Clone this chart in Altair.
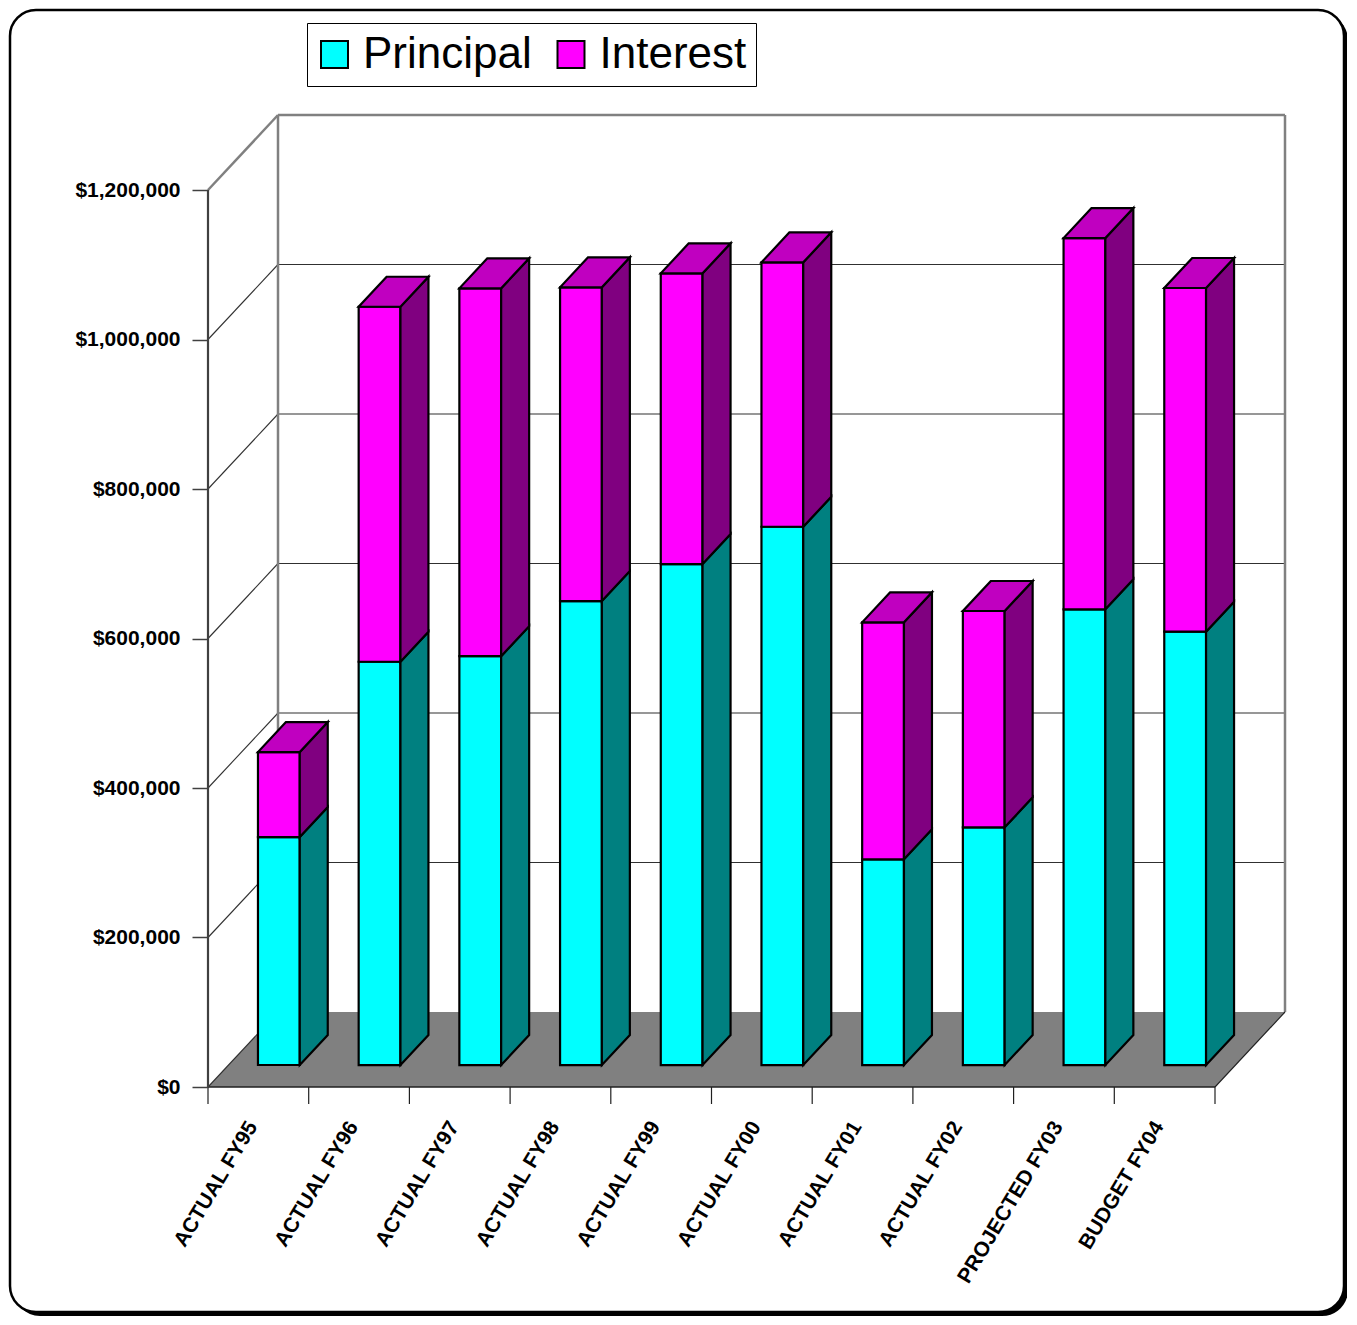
import json
import altair as alt
import pandas as pd

# ---------------- data ----------------
categories = ["ACTUAL FY95", "ACTUAL FY96", "ACTUAL FY97", "ACTUAL FY98", "ACTUAL FY99",
              "ACTUAL FY00", "ACTUAL FY01", "ACTUAL FY02", "PROJECTED FY03", "BUDGET FY04"]
principal = [305000, 539500, 547000, 620700, 670200, 720100, 275200, 318000, 609600, 579700]
interest = [113700, 474900, 492100, 419700, 388900, 353700, 317000, 289400, 496700, 459800]
series = ["Principal", "Interest"]
front_colors = ["#00FFFF", "#FF00FF"]
side_colors = ["#008080", "#800080"]
top_color = "#C000C0"
y_ticks = [0, 200000, 400000, 600000, 800000, 1000000, 1200000]

# ---------------- geometry (styling constants) ----------------
W, H = 1077, 974
PX_PER_CAT = 100.7
PX_PER_USD = 897 / 1200000
XMAX = W / PX_PER_CAT
YMAX = H / PX_PER_USD
DX = 70 / PX_PER_CAT          # depth offset in category units
DY = 75 / PX_PER_USD          # depth offset in value units
F0, F1 = 0.293, 0.693         # bar depth range (fraction of floor depth)
BW = 0.415                    # bar width (category units)
N = len(categories)
TOPV = y_ticks[-1]

XS = alt.Scale(domain=[0, XMAX], nice=False, zero=False)
YS = alt.Scale(domain=[0, YMAX], nice=False, zero=False)
FONT = "Liberation Sans"

XAXIS = alt.Axis(values=[i + 0.5 for i in range(N)],
                 labelExpr=json.dumps(categories) + "[floor(datum.value)]",
                 ticks=False, domain=False, grid=False, title=None,
                 labelAngle=-59, labelAlign="right", labelBaseline="middle",
                 labelPadding=36, labelOffset=-6, labelFontSize=21,
                 labelFontWeight="bold", labelLimit=0,
                 labelFont=FONT, labelColor="black", labelOverlap=False,
                 labelFlush=False, labelBound=False, zindex=1)
YAXIS = alt.Axis(values=y_ticks, format="$,.0f", domain=False, ticks=True,
                 tickSize=16, tickColor="#404040", tickWidth=1.5,
                 labelPadding=12, labelFontSize=21, labelFontWeight="bold",
                 labelFont=FONT, labelColor="black", grid=False, title=None,
                 labelLimit=0, zindex=1)


def X(f):
    return alt.X(f, type="quantitative", scale=XS, axis=XAXIS)


def Y(f):
    return alt.Y(f, type="quantitative", scale=YS, axis=YAXIS)


# ---------------- build geometry tables from data ----------------
front_rows, side_rows, top_rows = [], [], []
for i, cat in enumerate(categories):
    stacks = [(0, principal[i]), (principal[i], principal[i] + interest[i])]
    xl = i + 0.5 - BW / 2 + F0 * DX
    xr = xl + BW
    for s, (lo, hi) in enumerate(stacks):
        front_rows.append(dict(cat=cat, series=series[s], x=xl, x2=xr,
                               y=lo + F0 * DY, y2=hi + F0 * DY))
        for t in (0.0, 1.0):
            side_rows.append(dict(id=f"{i}-{s}", series=series[s],
                                  x=xr + t * (F1 - F0) * DX,
                                  y=lo + F0 * DY + t * (F1 - F0) * DY,
                                  y2=hi + F0 * DY + t * (F1 - F0) * DY))
    top = stacks[-1][1]
    for t in (0.0, 1.0):
        top_rows.append(dict(id=str(i),
                             y=top + F0 * DY + t * (F1 - F0) * DY,
                             x=xl + t * (F1 - F0) * DX,
                             x2=xr + t * (F1 - F0) * DX))

front_df = pd.DataFrame(front_rows)
side_df = pd.DataFrame(side_rows)
top_df = pd.DataFrame(top_rows)

floor_df = pd.DataFrame([dict(y=0, x=0, x2=N), dict(y=DY, x=DX, x2=N + DX)])

rule_rows = []
for v in y_ticks:
    top_level = v == TOPV
    col = "#808080" if top_level else "#303030"
    wd = 2.5 if top_level else 1.1
    rule_rows.append(dict(x=0, y=v, x2=DX, y2=v + DY, c=col, w=wd))
    if v > 0:
        rule_rows.append(dict(x=DX, y=v + DY, x2=N + DX, y2=v + DY, c=col, w=wd))
# walls, floor and axis edges
rule_rows += [
    dict(x=DX, y=DY, x2=DX, y2=TOPV + DY, c="#808080", w=2.5),
    dict(x=N + DX, y=DY, x2=N + DX, y2=TOPV + DY, c="#808080", w=2.5),
    dict(x=N, y=0, x2=N + DX, y2=DY, c="#202020", w=1.1),
    dict(x=0, y=0, x2=N, y2=0, c="#202020", w=1.5),
    dict(x=0, y=0, x2=0, y2=TOPV, c="#404040", w=2.2),
]
rule_df = pd.DataFrame(rule_rows)
tick_df = pd.DataFrame(dict(x=list(range(N + 1)), y=[0] * (N + 1)))
one = pd.DataFrame(dict(a=[0]))

# ---------------- layers ----------------
shadow = alt.Chart(one).mark_rect(cornerRadius=26, fill="black").encode(
    x=alt.value(-194), x2=alt.value(1140), y=alt.value(-99), y2=alt.value(1203))
frame = alt.Chart(one).mark_rect(cornerRadius=26, fill="white", stroke="black",
                                 strokeWidth=2.5).encode(
    x=alt.value(-198), x2=alt.value(1136), y=alt.value(-103), y2=alt.value(1199))

floor = alt.Chart(floor_df).mark_area(orient="horizontal", fill="#808080").encode(
    y=Y("y"), x=X("x"), x2="x2")

rules = alt.Chart(rule_df).mark_rule().encode(
    x=X("x"), y=Y("y"), x2="x2", y2="y2",
    stroke=alt.Stroke("c:N", scale=None),
    strokeWidth=alt.StrokeWidth("w:Q", scale=None))

xticks = alt.Chart(tick_df).mark_rule(stroke="#202020", strokeWidth=1.2).encode(
    x=X("x"), y=Y("y"), y2=alt.value(H + 17))

front = alt.Chart(front_df).mark_rect(stroke="black", strokeWidth=2.2).encode(
    x=X("x"), x2="x2", y=Y("y"), y2="y2",
    fill=alt.Fill("series:N",
                  scale=alt.Scale(domain=series, range=front_colors),
                  legend=alt.Legend(orient="none", legendX=99, legendY=-90,
                                    direction="horizontal", title=None,
                                    symbolType="square", symbolSize=729,
                                    symbolStrokeColor="black", symbolStrokeWidth=2,
                                    symbolOpacity=1, labelLimit=0,
                                    symbolOffset=-4,
                                    labelFontSize=44, labelFont=FONT,
                                    labelColor="black", labelOffset=6.5,
                                    columnPadding=20.5, padding=9.5,
                                    strokeColor="black", fillColor="white")))

side_layers = []
for s, name in enumerate(series):
    side_layers.append(
        alt.Chart(side_df[side_df.series == name]).mark_area(
            fill=side_colors[s], stroke="black", strokeWidth=2.2,
            strokeJoin="miter").encode(
            x=X("x"), y=Y("y"), y2="y2", detail="id:N"))

tops = alt.Chart(top_df).mark_area(orient="horizontal", fill=top_color,
                                   stroke="black", strokeWidth=2.2,
                                   strokeJoin="miter").encode(
    y=Y("y"), x=X("x"), x2="x2", detail="id:N")

chart = alt.layer(shadow, frame, floor, rules, xticks, front, *side_layers, tops).properties(
    width=W, height=H,
    autosize=alt.AutoSizeParams(type="none"),
    padding={"left": 200, "top": 105, "right": 62, "bottom": 229},
).configure_view(stroke=None).configure(background="white")

chart.save("out.html", embed_options={"renderer": "svg", "actions": False})
